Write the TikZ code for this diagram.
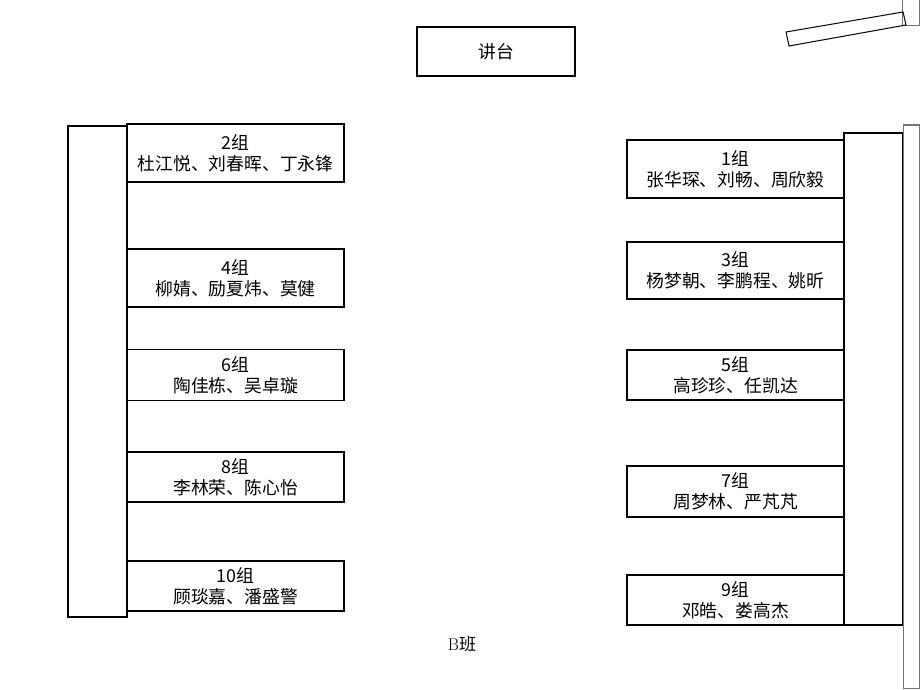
\documentclass[tikz,border=0pt]{standalone}
\usepackage{fontspec}
\newfontfamily\cjk{Noto Sans CJK SC}
\begin{document}
\begin{tikzpicture}[x=1pt,y=-1pt,
			groupbox/.style={rectangle, draw=black, line width=1.8pt, minimum width=217pt, inner sep=0pt, align=center, font=\cjk\fontsize{17.8}{21}\selectfont},
			deskbar/.style={draw=black, line width=1.6pt},
			wallbar/.style={draw=black!55, line width=1pt},
			]
\useasboundingbox (0,0) rectangle (920,690);

% podium
\node[groupbox, minimum width=158pt, minimum height=49pt] (jiangtai) at (496,51.5) {讲台};

% left side
\draw[deskbar] (68,126) rectangle (127,617);
\node[groupbox, minimum height=58pt] (g2) at (235.5,153) {2组\\杜江悦、刘春晖、丁永锋};
\node[groupbox, minimum height=58pt] (g4) at (235.5,278) {4组\\柳婧、励夏炜、莫健};
\node[groupbox, minimum height=51pt] (g6) at (235.5,375) {6组\\陶佳栋、吴卓璇};
\node[groupbox, minimum height=50pt] (g8) at (235.5,477) {8组\\李林荣、陈心怡};
\node[groupbox, minimum height=50pt] (g10) at (235.5,586) {10组\\顾琰嘉、潘盛警};

% right side
\draw[deskbar] (844,133) rectangle (903,625);
\draw[wallbar] (903,125) rectangle (919,688);
\node[groupbox, minimum height=58pt] (g1) at (735.5,169) {1组\\张华琛、刘畅、周欣毅};
\node[groupbox, minimum height=57pt] (g3) at (735.5,270.5) {3组\\杨梦朝、李鹏程、姚昕};
\node[groupbox, minimum height=50pt] (g5) at (735.5,375) {5组\\高珍珍、任凯达};
\node[groupbox, minimum height=51pt] (g7) at (735.5,491.5) {7组\\周梦林、严芃芃};
\node[groupbox, minimum height=50pt] (g9) at (735.5,600) {9组\\邓皓、娄高杰};

% door
\draw[wallbar] (902,0) rectangle (919,26);
\draw[black, line width=1pt] (786,32) -- (903,12) -- (906,25) -- (789,46) -- cycle;

\node[font=\fontsize{17}{20}\selectfont] (banji) at (462,644) {B{\cjk 班}};
\end{tikzpicture}
\end{document}
